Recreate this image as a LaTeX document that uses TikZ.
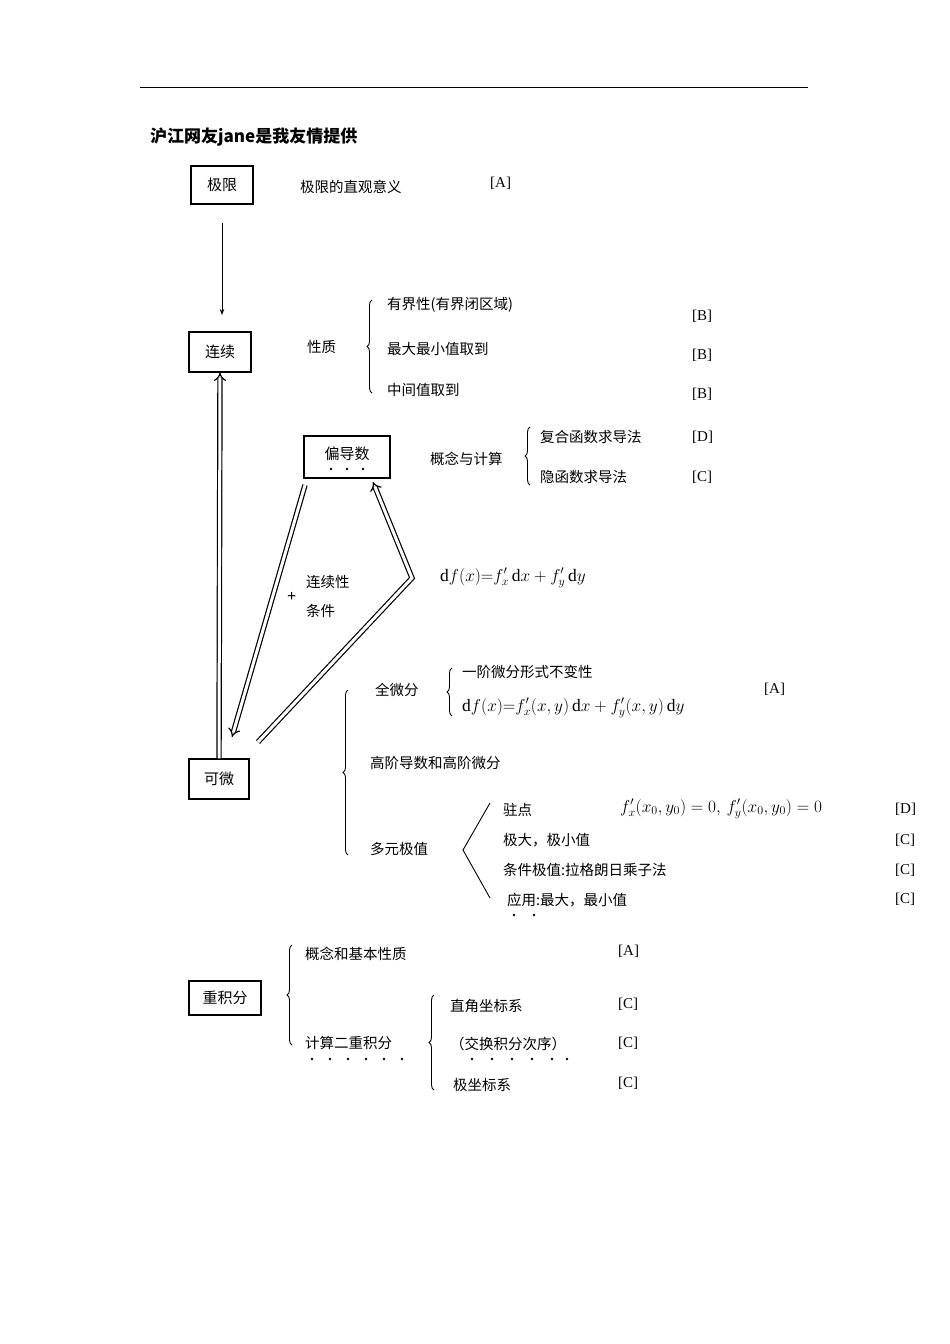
\documentclass[tikz,border=0pt]{standalone}
\usepackage{fontspec}
\setmainfont{Liberation Serif}
\newfontfamily\cjk{Noto Sans CJK SC}
\usetikzlibrary{arrows.meta,decorations.pathreplacing}
\begin{document}
\begin{tikzpicture}[x=1pt,y=-1pt,
  box/.style={draw,line width=1.3pt,minimum height=38pt,inner sep=0pt,font=\cjk\fontsize{15}{18}\selectfont},
  t/.style={anchor=west,inner sep=0pt,font=\cjk\fontsize{14.5}{18}\selectfont},
  g/.style={anchor=west,inner sep=0pt,font=\fontsize{15}{18}\selectfont},
  m/.style={anchor=west,inner sep=0pt,font=\fontsize{17.5}{20}\selectfont},
  dbl/.style={double,double distance=3pt,line width=1.2pt,-{Implies[length=9pt]}},
  br/.style={decorate,decoration={brace,amplitude=5pt},line width=0.9pt},
  dots/.style={circle,fill,inner sep=1.2pt}]
\useasboundingbox (0,0) rectangle (950,1344);
\draw[line width=0.8pt] (140,87) -- (808,87);
\node[t,font=\cjk\bfseries\fontsize{17}{20}\selectfont] (title) at (150,137) {沪江网友jane是我友情提供};
\node[box,minimum width=62pt] (jx) at (222,185) {极限};
\node[t] (jxa) at (300,187) {极限的直观意义};
\node[g] (jxg) at (490,183) {[A]};
\node[box,minimum width=62pt,minimum height=40pt] (lx) at (220,352) {连续};
\draw[line width=0.9pt,-{Stealth[length=6pt]}] (jx.south) ++(0,18) coordinate (j0) -- (222,315) coordinate (j1);
\node[t] (xz) at (307,347) {性质};
\draw[br] (372,393) -- (372,300);
\node[t] (x1) at (387,305) {有界性(有界闭区域)};
\node[t] (x2) at (387,349) {最大最小值取到};
\node[t] (x3) at (387,390) {中间值取到};
\node[g] (b1) at (692,316) {[B]};
\node[g] (b2) at (692,355) {[B]};
\node[g] (b3) at (692,394) {[B]};
\node[box,minimum width=86pt,minimum height=42pt,text depth=8pt] (pd) at (347,457) {偏导数};
\foreach \xx in {331,347,363} \node[dots,inner sep=1pt] at (\xx,469) {};
\node[t] (gn) at (430,459) {概念与计算};
\draw[br] (530,485) -- (530,427);
\node[t] (p1) at (540,437) {复合函数求导法};
\node[t] (p2) at (540,477) {隐函数求导法};
\node[g] (d1) at (692,437) {[D]};
\node[g] (c1) at (692,477) {[C]};
\node[m] (df) at (440,578) {$\mathrm{d}f(x){=}f'_x\,\mathrm{d}x+f'_y\,\mathrm{d}y$};
\node[g,font=\bfseries\fontsize{16}{18}\selectfont] (plus) at (287,597) {+};
\node[t] (lxx) at (306,582) {连续性};
\node[t] (tj) at (306,611) {条件};
\node[box,minimum width=60pt,minimum height=40pt] (kw) at (219,779) {可微};
\draw[dbl] (kw.north) -- (lx.south);
\coordinate (a1) at (305,485);
\coordinate (a2) at (232,737);
\draw[dbl] (a1) -- (a2);
\coordinate (b0) at (258,742);
\coordinate (bm) at (412,578);
\coordinate (bt) at (373,482);
\draw[dbl] (b0) -- (bm) -- (bt);
\draw[br] (348,855) -- (348,690);
\node[t] (qwf) at (375,690) {全微分};
\draw[br] (452,716) -- (452,668);
\node[t] (q1) at (462,672) {一阶微分形式不变性};
\node[m] (q2) at (462,708) {$\mathrm{d}f(x){=}f'_x(x,y)\,\mathrm{d}x+f'_y(x,y)\,\mathrm{d}y$};
\node[g] (qa) at (764,689) {[A]};
\node[t] (gj) at (370,763) {高阶导数和高阶微分};
\node[t] (dy) at (370,849) {多元极值};
\draw[line width=0.9pt] (490,803) -- (463,850) -- (490,898);
\node[t] (m1) at (503,810) {驻点};
\node[m] (mf) at (620,809) {$f'_x(x_0,y_0)=0,\,f'_y(x_0,y_0)=0$};
\node[t] (m2) at (503,840) {极大，极小值};
\node[t] (m3) at (503,870) {条件极值:拉格朗日乘子法};
\node[t] (m4) at (507,900) {应用:最大，最小值};
\foreach \xx in {514,534} \node[dots,inner sep=1pt] at (\xx,915) {};
\node[g] (md) at (895,809) {[D]};
\node[g] (mc1) at (895,840) {[C]};
\node[g] (mc2) at (895,870) {[C]};
\node[g] (mc3) at (895,899) {[C]};
\node[box,minimum width=72pt,minimum height=34pt] (cjf) at (225,998) {重积分};
\draw[br] (292,1045) -- (292,945);
\node[t] (z1) at (305,954) {概念和基本性质};
\node[g] (za) at (618,951) {[A]};
\node[t] (z2) at (305,1043) {计算二重积分};
\foreach \xx in {312,330,348,366,384,402} \node[dots,inner sep=1pt] at (\xx,1059) {};
\draw[br] (434,1090) -- (434,995);
\node[t] (w1) at (450,1006) {直角坐标系};
\node[t] (w2) at (450,1044) {（交换积分次序）};
\foreach \xx in {472,492,512,532,552,567} \node[dots,inner sep=1pt] at (\xx,1059) {};
\node[t] (w3) at (453,1085) {极坐标系};
\node[g] (wc1) at (618,1004) {[C]};
\node[g] (wc2) at (618,1043) {[C]};
\node[g] (wc3) at (618,1083) {[C]};
\end{tikzpicture}
\end{document}
